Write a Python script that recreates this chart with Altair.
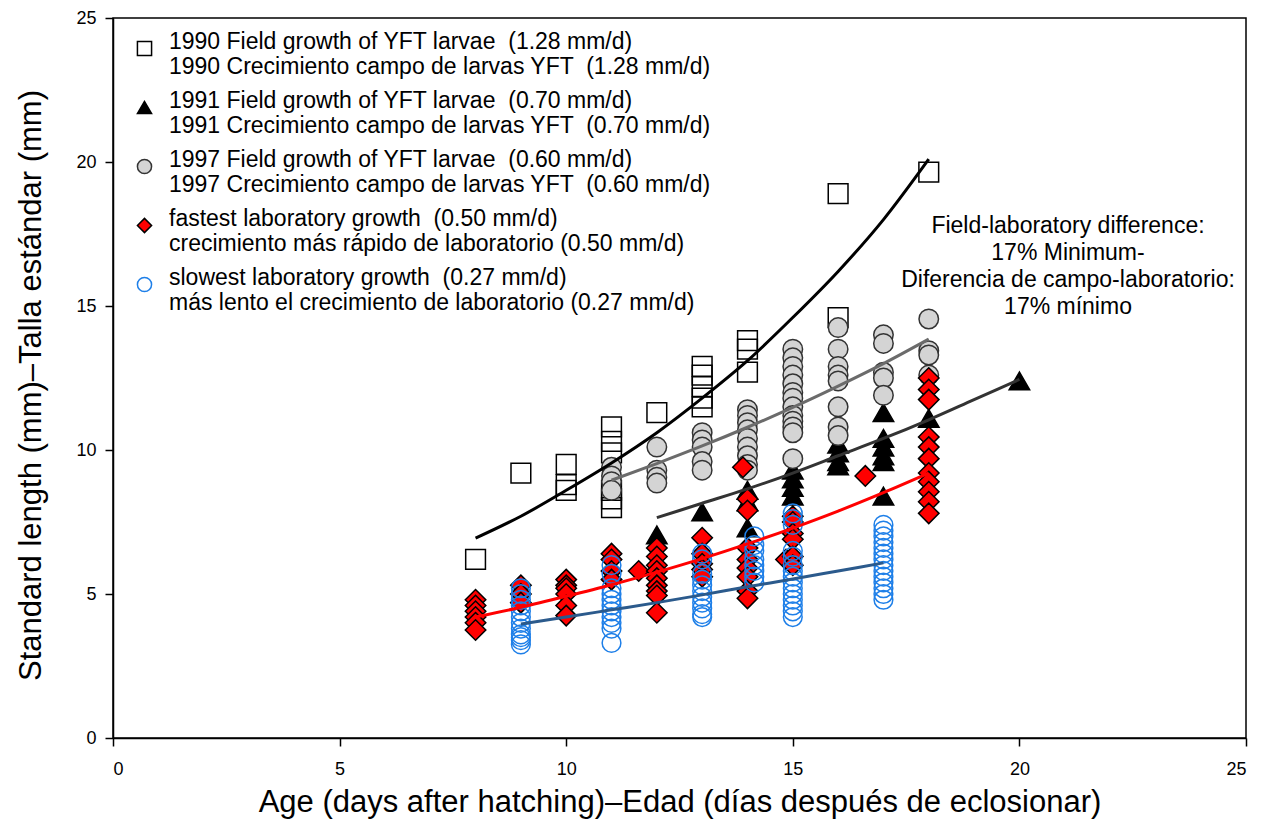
import altair as alt
import pandas as pd

# ---------------- data ----------------
# 1990 field (open squares)
sq_x = [8, 9, 10, 10, 10, 11, 11, 11, 11, 11, 11, 12, 13, 13, 13, 13, 13, 14, 14, 14, 16, 16, 18]
sq_y = [6.2, 9.2, 9.5, 8.8, 8.6, 10.8, 10.3, 9.9, 8.6, 8.3, 8.0, 11.3, 12.9, 12.6, 12.2, 11.8, 11.5,
        13.8, 13.5, 12.7, 18.9, 14.6, 19.65]

# 1991 field (filled triangles)
tri_x = [12, 13, 14, 14, 14, 15, 15, 15, 15, 16, 16, 16, 16, 17, 17, 17, 17, 17, 17, 18, 20]
tri_y = [7.05, 7.85, 8.6, 8.2, 7.3, 9.3, 9.0, 8.7, 8.4, 10.2, 9.9, 9.6, 9.45,
         11.3, 10.4, 10.1, 9.8, 9.6, 8.4, 11.1, 12.4]

# 1997 field (grey circles)
cir_x = [11] * 4 + [12] * 4 + [13] * 5 + [14] * 9 + [15] * 13 + [16] * 8 + [17] * 5 + [18] * 4
cir_y = [9.4, 9.1, 8.9, 8.6,
         10.1, 9.3, 9.05, 8.85,
         10.6, 10.35, 10.1, 9.6, 9.3,
         11.4, 11.2, 10.95, 10.7, 10.4, 10.1, 9.8, 9.5, 9.3,
         13.5, 13.2, 12.9, 12.6, 12.3, 12.0, 11.8, 11.5, 11.2, 11.0, 10.8, 10.6, 9.7,
         14.25, 13.5, 12.9, 12.6, 12.4, 11.5, 10.8, 10.5,
         14.0, 13.7, 12.7, 12.5, 11.9,
         14.55, 13.45, 13.3, 12.6]

# fastest laboratory growth (red diamonds)
dia_x = [8] * 6 + [9] * 3 + [10] * 6 + [11] * 4 + [11.6] + [12] * 9 + [13] * 5 + [13.9] + [14] * 8 \
        + [14.85] + [15] * 6 + [16.6] + [18] * 11
dia_y = [4.8, 4.6, 4.4, 4.2, 4.0, 3.75,
         5.3, 5.0, 4.7,
         5.5, 5.3, 5.2, 5.0, 4.6, 4.25,
         6.4, 6.2, 5.8, 5.5,
         5.8,
         6.6, 6.3, 6.0, 5.8, 5.55, 5.3, 5.1, 4.95, 4.35,
         6.95, 6.4, 6.05, 5.85, 5.6,
         9.4,
         8.3, 7.9, 6.6, 6.2, 5.9, 5.6, 5.1, 4.85,
         6.2,
         7.7, 7.5, 7.1, 6.9, 6.3, 6.0,
         9.1,
         12.5, 12.1, 11.75, 10.45, 10.1, 9.7, 9.2, 8.9, 8.55, 8.2, 7.8]

# slowest laboratory growth (open blue circles)
blu_x = [9] * 12 + [11] * 11 + [13] * 11 + [14.15] * 8 + [15] * 15 + [17] * 14
blu_y = [5.2, 5.0, 4.8, 4.6, 4.4, 4.2, 4.0, 3.8, 3.6, 3.5, 3.4, 3.25,
         6.0, 5.7, 5.2, 5.0, 4.8, 4.6, 4.4, 4.2, 4.0, 3.8, 3.3,
         6.4, 6.2, 5.7, 5.5, 5.3, 5.1, 4.9, 4.7, 4.5, 4.3, 4.2,
         7.0, 6.7, 6.5, 6.2, 6.0, 5.8, 5.6, 5.4,
         7.8, 7.6, 7.4, 6.5, 6.3, 6.0, 5.8, 5.6, 5.4, 5.2, 5.0, 4.8, 4.6, 4.4, 4.2,
         7.4, 7.2, 7.0, 6.8, 6.6, 6.4, 6.2, 6.0, 5.8, 5.6, 5.4, 5.2, 5.0, 4.8]

# fitted growth curves
fit90_x = [8, 9, 10, 11, 12, 13, 14, 15, 16, 17, 18]
fit90_y = [6.94, 7.7, 8.6, 9.55, 10.6, 11.8, 13.1, 14.6, 16.2, 18.0, 20.1]
fit91_x = [12, 13, 14, 15, 16, 17, 18, 19, 20]
fit91_y = [7.65, 8.15, 8.65, 9.2, 9.8, 10.4, 11.05, 11.75, 12.45]
fit97_x = [11, 12, 13, 14, 15, 16, 17, 18]
fit97_y = [8.95, 9.53, 10.14, 10.79, 11.48, 12.22, 13.0, 13.85]
fitfast_x = [8, 9, 10, 11, 12, 13, 14, 15, 16, 17, 18]
fitfast_y = [4.2, 4.54, 4.92, 5.32, 5.76, 6.23, 6.74, 7.29, 7.88, 8.52, 9.2]
fitslow_x = [9, 10, 11, 12, 13, 14, 15, 16, 17]
fitslow_y = [3.96, 4.2, 4.45, 4.7, 4.97, 5.25, 5.52, 5.8, 6.08]

series_labels = [
    "1990 Field growth of YFT larvae \u00a0(1.28 mm/d)|1990 Crecimiento campo de larvas YFT \u00a0(1.28 mm/d)",
    "1991 Field growth of YFT larvae \u00a0(0.70 mm/d)|1991 Crecimiento campo de larvas YFT \u00a0(0.70 mm/d)",
    "1997 Field growth of YFT larvae \u00a0(0.60 mm/d)|1997 Crecimiento campo de larvas YFT \u00a0(0.60 mm/d)",
    "fastest laboratory growth \u00a0(0.50 mm/d)|crecimiento más rápido de laboratorio (0.50 mm/d)",
    "slowest laboratory growth \u00a0(0.27 mm/d)|más lento el crecimiento de laboratorio (0.27 mm/d)",
]
fit_names = ["fit1990", "fit1991", "fit1997", "fitfast", "fitslow"]
annotation = ["Field-laboratory difference:", "17% Minimum-",
              "Diferencia de campo-laboratorio:", "17% mínimo"]
x_title = "Age (days after hatching)\u2013Edad (días después de eclosionar)"
y_title = "Standard length (mm)\u2013Talla estándar (mm)"
ticks = [0, 5, 10, 15, 20, 25]

# ---------------- styles ----------------
marker_shapes = ["square", "triangle-up", "circle", "diamond", "circle"]
marker_fills = ["transparent", "black", "#d4d4d4", "#ff0000", "transparent"]
marker_strokes = ["black", "black", "#333333", "black", "#1e7fe8"]
marker_sizes = [390, 420, 380, 420, 350]
line_colors = ["#000000", "#333333", "#6b6b6b", "#ff0000", "#2b5a8c"]

# ---------------- tables ----------------
rows = []
for lab, sz, xs, ys in zip(series_labels, marker_sizes,
                           [sq_x, tri_x, cir_x, dia_x, blu_x],
                           [sq_y, tri_y, cir_y, dia_y, blu_y]):
    for a, b in zip(xs, ys):
        rows.append({"series": lab, "x": a, "y": b, "sz": sz})
pts = pd.DataFrame(rows)

frows = []
for name, xs, ys in zip(fit_names,
                        [fit90_x, fit91_x, fit97_x, fitfast_x, fitslow_x],
                        [fit90_y, fit91_y, fit97_y, fitfast_y, fitslow_y]):
    for a, b in zip(xs, ys):
        frows.append({"fit": name, "x": a, "y": b})
fits = pd.DataFrame(frows)

FONT = "Liberation Sans"

xscale = alt.Scale(domain=[0, 25], nice=False, zero=False)
yscale = alt.Scale(domain=[0, 25], nice=False, zero=False)

xaxis = alt.Axis(values=ticks, title=x_title, grid=False, tickSize=8, tickWidth=1.5,
                 domainWidth=1.5, domainColor="black", tickColor="black",
                 labelFontSize=18, labelPadding=14, labelColor="black",
                 titleFontSize=31, titleFontWeight="normal", titleColor="black",
                 titleY=49, titleBaseline="top")
yaxis = alt.Axis(values=ticks, title=y_title, grid=False, tickSize=8, tickWidth=1.5,
                 domainWidth=1.5, domainColor="black", tickColor="black",
                 labelFontSize=18, labelPadding=9, labelColor="black",
                 titleFontSize=31, titleFontWeight="normal", titleColor="black",
                 titleX=-82, titleY=367, titleAngle=-90, titleBaseline="middle",
                 titleAlign="center")

legend = alt.Legend(title=None, orient="none", legendX=20, legendY=19, padding=0,
                    labelFontSize=23, labelFont=FONT, labelColor="black", labelLimit=0,
                    labelExpr="split(datum.label, '|')", labelOffset=13,
                    labelBaseline="alphabetic",
                    symbolSize=200, symbolStrokeWidth=1.5, rowPadding=10)

points = alt.Chart(pts).mark_point(opacity=1, strokeWidth=1.5).encode(
    x=alt.X("x:Q", scale=xscale, axis=xaxis),
    y=alt.Y("y:Q", scale=yscale, axis=yaxis),
    shape=alt.Shape("series:N", sort=None,
                    scale=alt.Scale(domain=series_labels, range=marker_shapes),
                    legend=legend),
    fill=alt.Fill("series:N", sort=None,
                  scale=alt.Scale(domain=series_labels, range=marker_fills),
                  legend=legend),
    stroke=alt.Stroke("series:N", sort=None,
                      scale=alt.Scale(domain=series_labels, range=marker_strokes),
                      legend=legend),
    size=alt.Size("sz:Q", scale=None),
)

lines = alt.Chart(fits).mark_line(strokeWidth=3, interpolate="monotone").encode(
    x=alt.X("x:Q", scale=xscale),
    y=alt.Y("y:Q", scale=yscale),
    color=alt.Color("fit:N", scale=alt.Scale(domain=fit_names, range=line_colors), legend=None),
    detail="fit:N",
)

note = alt.Chart(pd.DataFrame({"k": [0]})).mark_text(
    text=annotation, font=FONT, fontSize=23, lineHeight=27, align="center",
    baseline="top", color="black"
).encode(x=alt.value(955), y=alt.value(197))

chart = alt.layer(points, lines, note).properties(
    width=1133, height=720,
    autosize=alt.AutoSizeParams(type="none"),
    padding={"left": 113, "top": 18, "right": 22, "bottom": 86},
).configure(font=FONT).configure_view(stroke="black", strokeWidth=1.5)

chart.save("out.html", embed_options={"renderer": "svg", "actions": False})
